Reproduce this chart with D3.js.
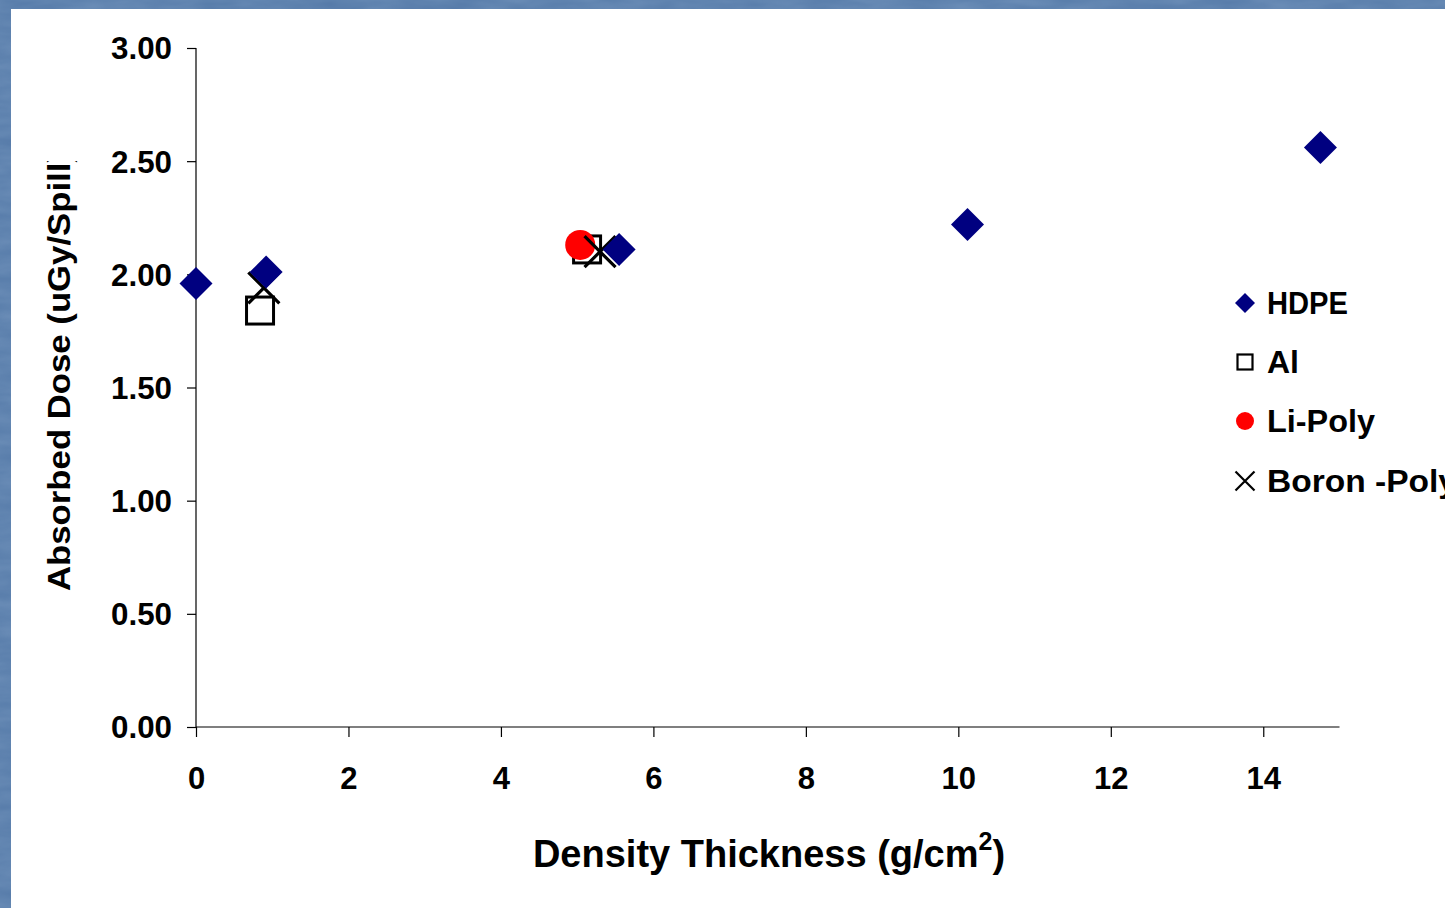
<!DOCTYPE html>
<html>
<head>
<meta charset="utf-8">
<script src="https://cdn.jsdelivr.net/npm/d3@7"></script>
<style>
  html, body { margin: 0; padding: 0; background: #5079a8; overflow: hidden; }
  svg { display: block; }
</style>
</head>
<body>
<div id="chart"></div>
<script>
// Data
const hdpeX = [0, 0.92, 5.55, 10.12, 14.75];
const hdpeY = [1.96, 2.01, 2.11, 2.22, 2.56];
const alX = [0.84, 5.13];
const alY = [1.84, 2.11];
const liX = [5.04];
const liY = [2.13];
const boronX = [0.89, 5.30];
const boronY = [1.94, 2.10];

const xTicks = [0, 2, 4, 6, 8, 10, 12, 14];
const yTicks = [0, 0.5, 1.0, 1.5, 2.0, 2.5, 3.0];
const legendNames = ['HDPE', 'Al', 'Li-Poly', 'Boron -Poly'];

const width = 1445, height = 908;
const font = "'Liberation Sans', Arial, sans-serif";

const svg = d3.select('#chart')
    .append('svg')
    .attr('width', width)
    .attr('height', height);

// textured blue slide background
const defs = svg.append('defs');
const filt = defs.append('filter').attr('id', 'tex');
filt.append('feTurbulence').attr('type', 'fractalNoise').attr('baseFrequency', '0.02 0.08').attr('numOctaves', 3).attr('seed', 4);
filt.append('feColorMatrix').attr('type', 'matrix')
    .attr('values', '0 0 0 0 0.40  0 0 0 0 0.56  0 0 0 0 0.74  0 0 0 0.5 0');
svg.append('rect').attr('width', width).attr('height', height).attr('fill', '#5479a8');
svg.append('rect').attr('width', width).attr('height', height).attr('filter', 'url(#tex)').attr('opacity', 0.6);

// white chart area
svg.append('rect')
    .attr('x', 11).attr('y', 9)
    .attr('width', width - 11).attr('height', height - 9)
    .attr('fill', '#ffffff');

const scaleX = d3.scaleLinear().domain([0, 15]).range([196, 1339.5]);
const scaleY = d3.scaleLinear().domain([0, 3]).range([727, 48]);

// axes
const xAxis = d3.axisBottom(scaleX).tickValues(xTicks).tickSize(10).tickFormat(d3.format('d'));
const yAxis = d3.axisLeft(scaleY).tickValues(yTicks).tickSize(9).tickFormat(d3.format('.2f'));

const xAxisGroup = svg.append('g')
    .attr('transform', 'translate(0,' + scaleY(0) + ')')
    .call(xAxis);
xAxisGroup.select('.domain').attr('d', 'M' + scaleX(0) + ',0H' + scaleX(15));

const yAxisGroup = svg.append('g')
    .attr('transform', 'translate(' + scaleX(0) + ',0)')
    .call(yAxis);
yAxisGroup.select('.domain').attr('d', 'M0,' + scaleY(3) + 'V' + scaleY(0));

svg.selectAll('.domain, .tick line').attr('stroke', '#000').attr('stroke-width', 1.2);
xAxisGroup.selectAll('.tick text')
    .attr('y', 51).attr('dy', '0.35em')
    .style('font-family', font).style('font-size', '31px').style('font-weight', 'bold').attr('fill', '#000');
yAxisGroup.selectAll('.tick text')
    .attr('x', -24).attr('dy', '0.35em')
    .attr('textLength', 61).attr('lengthAdjust', 'spacingAndGlyphs')
    .style('font-family', font).style('font-size', '31px').style('font-weight', 'bold').attr('fill', '#000');

// axis titles
const xTitle = svg.append('text')
    .attr('x', 769).attr('y', 867)
    .attr('text-anchor', 'middle')
    .style('font-family', font).style('font-size', '38px').style('font-weight', 'bold')
    .attr('fill', '#000');
xTitle.append('tspan').text('Density Thickness (g/cm');
xTitle.append('tspan').attr('dy', -17).style('font-size', '25px').text('2');
xTitle.append('tspan').attr('dy', 17).text(')');

defs.append('clipPath').attr('id', 'ytclip')
    .append('rect').attr('x', 0).attr('y', 161).attr('width', 120).attr('height', 500);
svg.append('g').attr('clip-path', 'url(#ytclip)')
    .append('text')
    .attr('transform', 'translate(70,591) rotate(-90)')
    .attr('text-anchor', 'start')
    .attr('textLength', 440).attr('lengthAdjust', 'spacingAndGlyphs')
    .style('font-family', font).style('font-size', '31px').style('font-weight', 'bold')
    .attr('fill', '#000')
    .text('Absorbed Dose (uGy/Spill)');

// markers
const diamond = s => 'M0,' + (-s) + 'L' + s + ',0L0,' + s + 'L' + (-s) + ',0Z';
const cross = s => 'M' + (-s) + ',' + (-s) + 'L' + s + ',' + s + 'M' + (-s) + ',' + s + 'L' + s + ',' + (-s);

function drawSquares(g, xs, ys, half, sw) {
    g.selectAll('rect.al').data(xs).enter().append('rect')
        .attr('class', 'al')
        .attr('x', (d, i) => scaleX(d) - half)
        .attr('y', (d, i) => scaleY(ys[i]) - half)
        .attr('width', half * 2).attr('height', half * 2)
        .attr('fill', 'none').attr('stroke', '#000').attr('stroke-width', sw);
}

const plot = svg.append('g');

drawSquares(plot, alX, alY, 13.5, 3);

plot.selectAll('circle.li').data(liX).enter().append('circle')
    .attr('class', 'li')
    .attr('cx', d => scaleX(d))
    .attr('cy', (d, i) => scaleY(liY[i]))
    .attr('r', 15)
    .attr('fill', '#ff0000');

plot.selectAll('path.boron').data(boronX).enter().append('path')
    .attr('class', 'boron')
    .attr('transform', (d, i) => 'translate(' + scaleX(d) + ',' + scaleY(boronY[i]) + ')')
    .attr('d', cross(15.5))
    .attr('stroke', '#000').attr('stroke-width', 3.2).attr('fill', 'none');

plot.selectAll('path.hdpe').data(hdpeX).enter().append('path')
    .attr('class', 'hdpe')
    .attr('transform', (d, i) => 'translate(' + scaleX(d) + ',' + scaleY(hdpeY[i]) + ')')
    .attr('d', diamond(16.5))
    .attr('fill', '#000080');

// legend
const legend = svg.append('g');
const legY = [303, 362, 421, 481];
const legLen = [81, 32, 108, 190];
legendNames.forEach((name, i) => {
    const g = legend.append('g').attr('transform', 'translate(1245,' + legY[i] + ')');
    if (i === 0) g.append('path').attr('d', diamond(10)).attr('fill', '#000080');
    if (i === 1) g.append('rect').attr('x', -7.5).attr('y', -7.5).attr('width', 15).attr('height', 15)
        .attr('fill', 'none').attr('stroke', '#000').attr('stroke-width', 2.2);
    if (i === 2) g.append('circle').attr('r', 9).attr('fill', '#ff0000');
    if (i === 3) g.append('path').attr('d', cross(9.5)).attr('stroke', '#000').attr('stroke-width', 2.2);
    g.append('text')
        .attr('x', 22).attr('dy', '0.35em')
        .attr('textLength', legLen[i]).attr('lengthAdjust', 'spacingAndGlyphs')
        .style('font-family', font).style('font-size', '31px').style('font-weight', 'bold')
        .attr('fill', '#000')
        .text(name);
});
</script>
</body>
</html>
